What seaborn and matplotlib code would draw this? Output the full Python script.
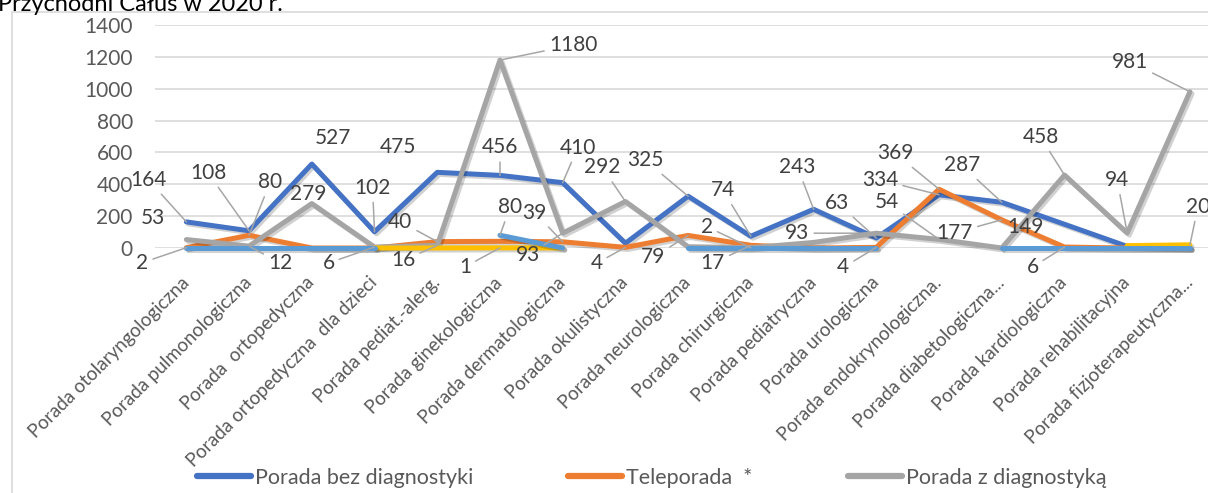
import numpy as np
import pandas as pd
import matplotlib
matplotlib.use("Agg")
import matplotlib.pyplot as plt
import matplotlib.patheffects as pe
from matplotlib.lines import Line2D
from matplotlib.patches import Rectangle
import seaborn as sns

# ---------------- data ----------------
categories = [
    "Porada otolaryngologiczna",
    "Porada pulmonologiczna",
    "Porada  ortopedyczna",
    "Porada ortopedyczna  dla dzieci",
    "Porada pediat.-alerg.",
    "Porada ginekologiczna",
    "Porada dermatologiczna",
    "Porada okulistyczna",
    "Porada neurologiczna",
    "Porada chirurgiczna",
    "Porada pediatryczna",
    "Porada urologiczna",
    "Porada endokrynologiczna.",
    "Porada diabetologiczna...",
    "Porada kardiologiczna",
    "Porada rehabilitacyjna",
    "Porada fizjoterapeutyczna...",
]
series_names = ["Porada bez diagnostyki", "Teleporada  *", "Porada z diagnostyką", "Seria 4", "Seria 5"]
nan = np.nan
porada_bez_diagnostyki = [164, 108, 527, 102, 475, 456, 410, 30, 325, 74, 243, 63, 334, 287, 149, 10, 0]
teleporada = [2, 80, 0, 0, 40, 42, 39, 4, 79, 17, 0, 4, 369, 177, 6, 0, 0]
porada_z_diagnostyka = [53, 12, 279, 6, 16, 1180, 93, 292, 8, 2, 35, 93, 54, 0, 458, 94, 981]
seria_4 = [nan, nan, nan, 0, 0, 1, 0, nan, nan, nan, nan, nan, nan, nan, nan, 15, 20]
seria_5 = [0, 0, 0, 0, nan, 80, 0, nan, 0, 0, 0, 0, nan, 0, 0, 0, 0]
y_ticks = [0, 200, 400, 600, 800, 1000, 1200, 1400]
title_text = "Przychodni Całus w 2020 r."

all_series = [porada_bez_diagnostyki, teleporada, porada_z_diagnostyka, seria_4, seria_5]
colors = ["#4472C4", "#ED7D31", "#A5A5A5", "#FFC000", "#5B9BD5"]

# label placement (offset in pixels from the point, leader line flag)
label_specs = [
    {0: (-38, 42, True), 1: (-41, 58, True), 2: (21, 26, False), 3: (-2, 44, True),
     4: (-39, 25, False), 5: (0, 28, True), 6: (15, 35, True), 8: (-43, 36, True),
     9: (-28, 46, True), 10: (-16, 42, True), 11: (-39, 35, True), 12: (-59, 15, True),
     13: (-40, 37, True), 14: (-39, -3, False)},
    {0: (-44, -15, True), 1: (21, 53, True), 4: (-37, 20, True), 6: (-28, 29, True),
     7: (-29, -16, True), 8: (-35, -22, True), 9: (-38, -18, True), 11: (-33, -20, True),
     12: (-44, 36, True), 13: (-47, -13, True), 14: (-32, -20, True)},
    {0: (-33, 22, False), 1: (31, -17, True), 2: (-4, 10, False), 3: (-46, -16, True),
     4: (-34, -15, True), 5: (73, 15, True), 6: (-35, -22, True), 7: (-23, 34, True),
     9: (-44, 21, True), 11: (-79, 0, True), 12: (-52, 37, True), 14: (-24, 38, True),
     15: (-10, 53, True), 16: (-60, 30, True)},
    {5: (-35, -19, True), 16: (8, 38, True)},
    {5: (10, 28, True)},
]

# ---------------- figure ----------------
sns.set_theme(style="white")
plt.rcParams["font.family"] = ["Lato", "DejaVu Sans"]

W, H = 1208, 493
fig = plt.figure(figsize=(W / 100, H / 100), dpi=100)
fig.patch.set_facecolor("white")
ax = fig.add_axes([155 / W, (H - 248) / H, 1066.3 / W, 223 / H])

rows = []
for name, vals in zip(series_names, all_series):
    arr = np.array(vals, dtype=float)
    seg = np.cumsum(np.isnan(arr))
    for i, (v, s) in enumerate(zip(arr, seg)):
        if not np.isnan(v):
            rows.append({"pos": i, "value": v, "series": name, "seg": int(s)})
df = pd.DataFrame(rows)

sns.lineplot(
    data=df, x="pos", y="value", hue="series", hue_order=series_names,
    palette=colors, units="seg", estimator=None, sort=False, legend=False,
    lw=3.6, ax=ax, solid_joinstyle="round", solid_capstyle="round", clip_on=False,
    path_effects=[pe.SimpleLineShadow(offset=(1.5, -1.5), shadow_color="black", alpha=0.18),
                  pe.Normal()],
)
for ln in ax.get_lines():
    ln.set_clip_on(False)

ax.set_xlim(-0.5, 16.5)
ax.set_ylim(0, 1400)
ax.set_yticks(y_ticks)
ax.set_yticklabels([str(t) for t in y_ticks])
ax.yaxis.grid(True, color="#d9d9d9", lw=1.2)
ax.xaxis.grid(False)
ax.set_axisbelow(True)
for s in ax.spines.values():
    s.set_visible(False)
ax.tick_params(axis="y", length=0, pad=16, labelsize=15, labelcolor="#595959")
ax.set_xticks(range(len(categories)))
ax.set_xticklabels(categories, rotation=45, ha="right", va="center",
                   rotation_mode="anchor", fontsize=13.5, color="#595959")
ax.tick_params(axis="x", length=0, pad=23)
ax.set_xlabel("")
ax.set_ylabel("")

# data labels
for si, vals in enumerate(all_series):
    for idx, (dx, dy, leader) in label_specs[si].items():
        v = vals[idx]
        ax.annotate(
            f"{int(v)}", xy=(idx, v), xytext=(dx, dy), textcoords="offset pixels",
            ha="center", va="center", fontsize=15, color="#404040", zorder=6,
            annotation_clip=False,
            arrowprops=(dict(arrowstyle="-", color="#a6a6a6", lw=1.1, shrinkA=1, shrinkB=0)
                        if leader else None),
        )

# title fragment (cut at top, as in the source image) and chart border
fig.text(-0.002, 1 - 11 / H, title_text, fontsize=17, color="#000000", va="baseline", ha="left")
fig.add_artist(Rectangle((12 / W, -0.1), 1.2, (H - 12) / H + 0.1, transform=fig.transFigure,
                         fill=False, edgecolor="#d9d9d9", lw=1.2))

# legend (three visible entries)
legend_x = [197, 568, 848]
for name, color, x in zip(series_names[:3], colors[:3], legend_x):
    h = Line2D([], [], color=color, lw=4.5, solid_capstyle="round")
    fig.legend([h], [name], loc="center left", bbox_to_anchor=(x / W, 1 - 478 / H),
               frameon=False, fontsize=15.5, handlelength=2.5, handletextpad=0.2,
               borderpad=0, borderaxespad=0, labelcolor="#595959")

fig.savefig("out.png", dpi=100)
